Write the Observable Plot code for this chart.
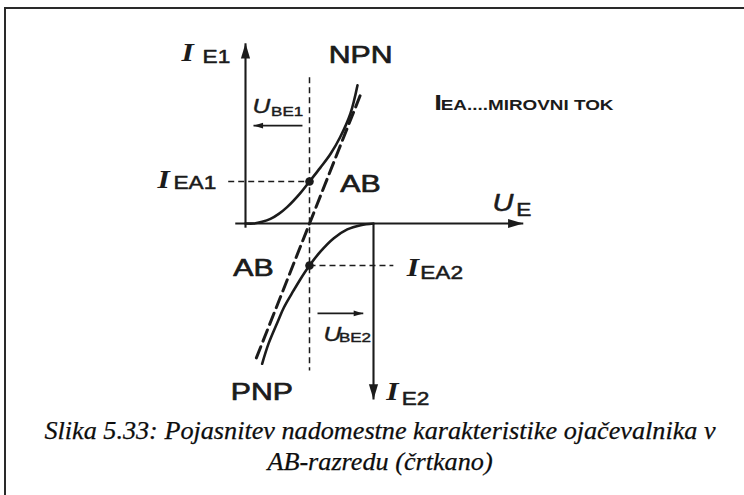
<!DOCTYPE html>
<html>
<head>
<meta charset="utf-8">
<script src="https://cdn.jsdelivr.net/npm/d3@7"></script>
<script src="https://cdn.jsdelivr.net/npm/@observablehq/plot@0.6"></script>
<style>
  html, body { margin: 0; padding: 0; background: #fff; }
  #page { position: relative; width: 744px; height: 495px; overflow: hidden; background: #fff; }
  #frame { position: absolute; left: 4px; top: 7px; right: -10px; bottom: -10px;
           border-left: 2px solid #2a2a2a; border-top: 2px solid #2a2a2a; }
  #chart { position: absolute; left: 0; top: 0; }
  .cap { position: absolute; left: 380px; transform: translateX(-50%); white-space: nowrap;
         font-family: "Liberation Serif", "Times New Roman", serif; font-style: italic;
         font-size: 26.2px; line-height: 26.2px; color: #0d0d0d; -webkit-text-stroke: 0.25px #0d0d0d; }
</style>
</head>
<body>
<div id="page">
  <div id="frame"></div>
  <div id="chart"></div>
  <div class="cap" style="top:418px">Slika 5.33: Pojasnitev nadomestne karakteristike ojačevalnika v</div>
  <div class="cap" style="top:449px">AB-razredu (črtkano)</div>
</div>
<script>
// Units: U in multiples of the bias voltage U_BE, I in multiples of the quiescent current I_EA.

// NPN transistor: I_E1 as a function of U_E
const npnU = [0, 0.13, 0.26, 0.39, 0.52, 0.65, 0.86, 1.0, 1.17, 1.33, 1.48, 1.64, 1.75];
const npnI = [0, 0.0, 0.04, 0.11, 0.23, 0.39, 0.73, 1.0, 1.33, 1.66, 2.06, 2.62, 3.29];

// PNP transistor: I_E2 (drawn downward) as a function of U_E
const pnpU = [2.0, 1.8, 1.59, 1.38, 1.17, 1.0, 0.86, 0.75, 0.6, 0.5, 0.36, 0.26];
const pnpI = [0, -0.04, -0.14, -0.35, -0.67, -1.0, -1.32, -1.6, -2.0, -2.35, -2.86, -3.34];

// Combined (substitute) AB characteristic, dashed
const abU = [0.17, 1.79];
const abI = [-3.2, 3.04];

// Quiescent operating points
const opU = [1, 1];
const opI = [1, -1];

// Axes and small voltage arrows: from (u1,i1) to the arrow tip (u2,i2)
const arrows = [
  {name: "U_E",   u1: -0.16, i1: 0,     u2: 4.34,  i2: 0,     dir: "right", size: "axis"},
  {name: "I_E1",  u1: 0,     i1: -0.1,  u2: 0,     i2: 4.29,  dir: "up",    size: "axis"},
  {name: "I_E2",  u1: 2,     i1: 0,     u2: 2,     i2: -4.19, dir: "down",  size: "axis"},
  {name: "U_BE1", u1: 0.89,  i1: 2.33,  u2: 0.125, i2: 2.33,  dir: "left",  size: "small"},
  {name: "U_BE2", u1: 1.125, i1: -2.14, u2: 1.84,  i2: -2.14, dir: "right", size: "small"}
];

// Thin dashed guides through the operating points
const guides = [
  {u1: 1,     i1: 3.48, u2: 1,    i2: -3.5},
  {u1: -0.27, i1: 1,    u2: 1,    i2: 1},
  {u1: 1,     i1: -1,   u2: 2.31, i2: -1}
];

// Labels: main symbols, subscripts, names and the note
const symbols = [
  {t: "I", u: -1.0,   i: 3.88,  kind: "serif"},
  {t: "I", u: -1.375, i: 0.857, kind: "serif"},
  {t: "I", u: 2.52,   i: -1.24, kind: "serif"},
  {t: "I", u: 2.2,    i: -4.21, kind: "serif"},
  {t: "U", u: 3.86,   i: 0.286, kind: "big"},
  {t: "U", u: 0.11,   i: 2.62,  kind: "mid"},
  {t: "U", u: 1.22,   i: -2.79, kind: "mid"}
];
const subscripts = [
  {t: "E1",  u: -0.67, i: 3.81,  kind: "sub"},
  {t: "EA1", u: -1.125, i: 0.81, kind: "sub"},
  {t: "EA2", u: 2.73,  i: -1.33, kind: "sub"},
  {t: "E2",  u: 2.44,  i: -4.31, kind: "sub"},
  {t: "E",   u: 4.23,  i: 0.167, kind: "sub"},
  {t: "BE1", u: 0.4,   i: 2.57,  kind: "subsmall"},
  {t: "BE2", u: 1.46,  i: -2.83, kind: "subsmall"}
];
const names = [
  {t: "NPN", u: 1.30,  i: 3.83,  kind: "name"},
  {t: "AB",  u: 1.48,  i: 0.76,  kind: "name"},
  {t: "AB",  u: -0.19, i: -1.26, kind: "name"},
  {t: "PNP", u: -0.23, i: -4.21, kind: "name"}
];
const note = [
  {t: "I", u: 2.95, i: 2.71, kind: "noteBig"},
  {t: "EA....MIROVNI TOK", u: 3.05, i: 2.71, kind: "note"}
];

const ink = "#1b1b1b";
const W = 744, H = 415;
const ox = 245, oy = 223, ku = 64, ki = 42; // pixel position of the origin and pixels per unit

const sans = "Liberation Sans, Arial, sans-serif";
const textStyles = {
  serif:    {fontFamily: "Liberation Serif, serif", fontStyle: "italic", fontWeight: "bold", fontSize: 25},
  big:      {fontFamily: sans, fontStyle: "italic", fontSize: 23, stroke: ink, strokeWidth: 0.5},
  mid:      {fontFamily: sans, fontStyle: "italic", fontSize: 19.5, stroke: ink, strokeWidth: 0.4},
  sub:      {fontFamily: sans, fontSize: 18, stroke: ink, strokeWidth: 0.5},
  subsmall: {fontFamily: sans, fontSize: 13.5, stroke: ink, strokeWidth: 0.45},
  name:     {fontFamily: sans, fontSize: 24, stroke: ink, strokeWidth: 0.7},
  noteBig:  {fontFamily: sans, fontWeight: "bold", fontSize: 22},
  note:     {fontFamily: sans, fontWeight: "bold", fontSize: 15}
};

// Filled arrowhead with its tip at the anchor point, pointing along (dx, dy) on screen
function head(dx, dy) {
  return {
    draw(ctx, size) {
      const k = Math.sqrt(size / Math.PI), L = 3.3 * k;
      const px = -dy, py = dx;
      ctx.moveTo(0, 0);
      ctx.lineTo(-dx * L + px * k, -dy * L + py * k);
      ctx.lineTo(-dx * L - px * k, -dy * L - py * k);
      ctx.closePath();
    }
  };
}
const dirs = {right: [1, 0], left: [-1, 0], up: [0, -1], down: [0, 1]};

const npn = npnU.map((u, k) => ({u, i: npnI[k]}));
const pnp = pnpU.map((u, k) => ({u, i: pnpI[k]}));
const ab = abU.map((u, k) => ({u, i: abI[k]}));
const ops = opU.map((u, k) => ({u, i: opI[k]}));

const labelMarks = [...symbols, ...subscripts, ...names, ...note];
const textMarks = Object.entries(textStyles).map(([kind, style]) =>
  Plot.text(labelMarks.filter(d => d.kind === kind), {
    x: "u", y: "i", text: "t", textAnchor: "start", lineAnchor: "bottom", fill: ink, ...style
  })
);

const headMarks = [];
for (const [dir, [dx, dy]] of Object.entries(dirs)) {
  for (const size of ["axis", "small"]) {
    const subset = arrows.filter(d => d.dir === dir && d.size === size);
    if (subset.length) headMarks.push(Plot.dot(subset, {
      x: "u2", y: "i2", symbol: head(dx, dy), r: size === "axis" ? 4.6 : 2.9, fill: ink, stroke: "none"
    }));
  }
}

const chart = Plot.plot({
  width: W, height: H,
  margin: 0,
  style: {background: "transparent", overflow: "visible"},
  x: {domain: [-ox / ku, (W - ox) / ku], range: [0, W], axis: null},
  y: {domain: [(oy - H) / ki, oy / ki], range: [H, 0], axis: null},
  marks: [
    Plot.link(guides, {x1: "u1", y1: "i1", x2: "u2", y2: "i2", stroke: ink, strokeWidth: 1.5, strokeDasharray: "6,4"}),
    Plot.link(arrows.filter(d => d.size === "axis"), {x1: "u1", y1: "i1", x2: "u2", y2: "i2", stroke: ink, strokeWidth: 2.1}),
    Plot.link(arrows.filter(d => d.size === "small"), {x1: "u1", y1: "i1", x2: "u2", y2: "i2", stroke: ink, strokeWidth: 1.7}),
    ...headMarks,
    Plot.line(ab, {x: "u", y: "i", stroke: ink, strokeWidth: 3, strokeDasharray: "12,6"}),
    Plot.line(npn, {x: "u", y: "i", curve: "catmull-rom", stroke: ink, strokeWidth: 2.6, strokeLinecap: "round"}),
    Plot.line(pnp, {x: "u", y: "i", curve: "catmull-rom", stroke: ink, strokeWidth: 2.6, strokeLinecap: "round"}),
    Plot.dot(ops, {x: "u", y: "i", r: 4.3, fill: ink, stroke: "none"}),
    ...textMarks
  ]
});

// the lettering of the figure is set in a wide grotesque: widen the glyphs
d3.select(chart).selectAll("text").each(function () {
  const t = this.getAttribute("transform");
  if (t) this.setAttribute("transform", t + " scale(1.26,1)");
});

document.getElementById("chart").appendChild(chart);
</script>
</body>
</html>
